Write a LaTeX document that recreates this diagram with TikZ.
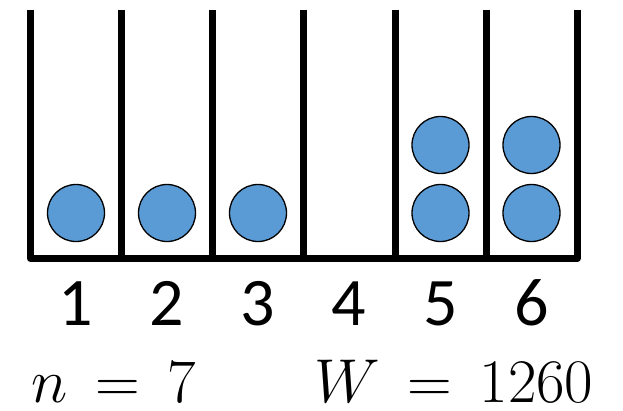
\documentclass[tikz,border=0pt]{standalone}
\usepackage[no-math]{fontspec}
\setmainfont{Carlito}
\definecolor{ballblue}{HTML}{5B9BD5}
\begin{document}
\begin{tikzpicture}[x=1pt,y=-1pt,
  wall/.style={line width=7pt,line join=round},
  ball/.style={circle,draw=black,line width=1.3pt,fill=ballblue,minimum size=57pt,inner sep=0pt},
  binlabel/.style={anchor=base,inner sep=0pt,font=\fontsize{68}{80}\selectfont},
  mathlabel/.style={anchor=base,inner sep=0pt,font=\Huge,scale=2.49}]
\useasboundingbox (0,0) rectangle (623,410);
% wall coordinates
\foreach \i/\x in {0/30.5,1/121.5,2/212.5,3/303.5,4/395,5/486,6/577}{
  \coordinate (t\i) at (\x,10);
  \coordinate (b\i) at (\x,258.5);
}
\draw[wall] (t0) -- (b0) -- (b6) -- (t6);
\foreach \i in {1,...,5}{ \draw[wall] (t\i) -- (b\i); }
% balls
\node[ball] (c1a) at (76,213) {};
\node[ball] (c2a) at (167,213) {};
\node[ball] (c3a) at (258,213) {};
\node[ball] (c5a) at (440.5,213) {};
\node[ball] (c5b) at (440.5,145) {};
\node[ball] (c6a) at (531.5,213) {};
\node[ball] (c6b) at (531.5,145) {};
% bin numbers
\node[binlabel] (l1) at (76,325) {1};
\node[binlabel] (l2) at (167,325) {2};
\node[binlabel] (l3) at (258,325) {3};
\node[binlabel] (l4) at (349,325) {4};
\node[binlabel] (l5) at (440.5,325) {5};
\node[binlabel] (l6) at (531.5,325) {6};
% formulas
\node[mathlabel] (nval) at (114,402) {$n\,=\,7$};
\node[mathlabel] (wval) at (454,402) {$W\,=\,1260$};
\end{tikzpicture}
\end{document}
